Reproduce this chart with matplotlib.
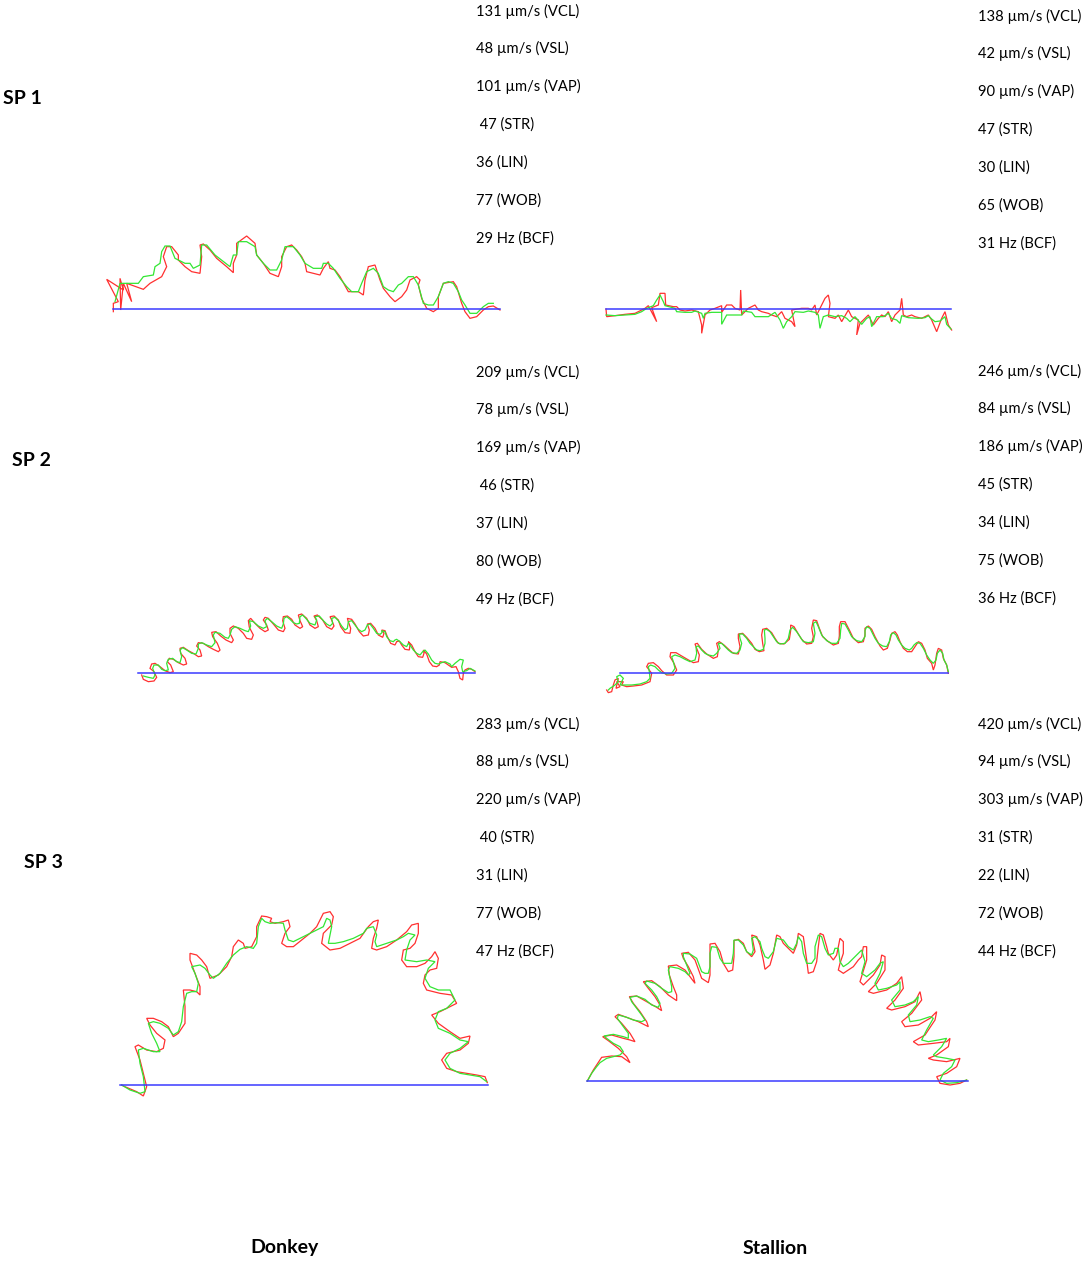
import matplotlib
matplotlib.use("Agg")
import matplotlib.pyplot as plt
import numpy as np

# ---------------- data ----------------
species = ["Donkey", "Stallion"]
subpops = ["SP 1", "SP 2", "SP 3"]

vcl = {"Donkey": [131, 209, 283], "Stallion": [138, 246, 420]}
vsl = {"Donkey": [48, 78, 88], "Stallion": [42, 84, 94]}
vap = {"Donkey": [101, 169, 220], "Stallion": [90, 186, 303]}
strv = {"Donkey": [47, 46, 40], "Stallion": [47, 45, 31]}
lin = {"Donkey": [36, 37, 31], "Stallion": [30, 34, 22]}
wob = {"Donkey": [77, 80, 77], "Stallion": [65, 75, 72]}
bcf = {"Donkey": [29, 49, 47], "Stallion": [31, 36, 44]}

# Track coordinates (image units of the tracking system, y downwards)
A_green = [(45,215),(60,160),(90,160),(115,160),(130,140),(160,135),(165,110),(180,100),(185,65),(195,48),(210,48),(225,85),(255,100),(270,100),(280,115),(300,105),(305,45),(320,45),(345,75),(390,110),(400,75),(410,75),(415,35),(440,35),(465,50),(470,75),(490,100),(510,120),(530,120),(545,90),(555,50),(580,50),(600,75),(615,100),(640,115),(665,115),(670,100),(685,100),(700,115),(720,145),(740,170),(755,185),(775,185),(785,160),(800,125),(820,115),(835,130),(850,170),(865,180),(880,185),(895,165),(905,160),(920,145),(925,140),(940,140),(955,165),(970,220),(985,225),(1000,225),(1015,200),(1030,160),(1045,155),(1060,160),(1075,185),(1085,210),(1095,225),(1110,250),(1130,250),(1150,230),(1165,220),(1180,220)]
A_red = [(40,245),(40,220),(55,215),(20,148),(70,180),(60,145),(62,240),(70,160),(95,215),(80,160),(130,178),(150,160),(185,140),(200,110),(190,80),(200,50),(215,50),(235,75),(235,90),(255,110),(275,125),(300,130),(305,80),(300,45),(310,42),(330,60),(350,85),(380,110),(400,128),(400,100),(410,75),(410,40),(440,18),(465,40),(470,75),(490,100),(510,130),(535,140),(545,110),(545,80),(560,50),(575,45),(590,60),(605,80),(615,100),(620,125),(640,130),(660,135),(670,115),(685,95),(690,115),(705,120),(720,140),(745,185),(775,185),(790,195),(795,150),(800,130),(805,110),(825,105),(830,120),(840,150),(850,175),(870,200),(885,215),(905,200),(920,180),(930,150),(950,140),(960,150),(955,165),(965,205),(980,235),(1000,245),(1015,235),(1015,200),(1030,160),(1060,155),(1070,170),(1085,220),(1095,245),(1110,265),(1130,260),(1150,240),(1165,230),(1180,228),(1200,240)]
A_blue = [(40,237),(1200,237)]

B_green = [(33,90),(60,92),(90,90),(120,88),(140,80),(155,70),(175,62),(185,45),(195,30),(205,50),(210,62),(240,70),(245,80),(270,82),(290,82),(300,78),(320,85),(325,100),(330,85),(350,82),(380,82),(380,118),(395,90),(420,90),(440,90),(445,78),(470,82),(480,95),(500,95),(520,95),(540,82),(555,105),(565,130),(575,110),(590,95),(600,80),(625,82),(640,78),(660,82),(670,90),(675,130),(685,95),(700,90),(720,95),(740,92),(755,100),(765,110),(780,95),(800,118),(815,100),(825,95),(830,125),(845,95),(865,95),(880,85),(890,100),(905,105),(915,115),(920,92),(940,98),(970,100),(990,98),(1000,92),(1010,102),(1020,110),(1035,108),(1050,95),(1055,118),(1068,132)]
B_red = [(33,72),(35,95),(60,92),(90,88),(120,85),(150,70),(160,62),(185,110),(170,68),(190,60),(195,25),(210,25),(212,60),(235,65),(245,65),(255,75),(270,78),(290,75),(310,80),(320,120),(320,145),(330,90),(345,75),(360,70),(380,62),(380,82),(395,60),(410,60),(420,70),(435,75),(437,15),(440,90),(460,70),(480,60),(490,75),(500,80),(520,85),(530,90),(545,95),(560,80),(570,100),(590,110),(600,125),(590,75),(620,70),(640,70),(650,75),(660,60),(665,90),(690,40),(700,30),(705,55),(700,95),(720,100),(730,90),(740,110),(760,75),(770,95),(790,105),(785,150),(795,115),(810,100),(820,90),(835,120),(850,100),(860,90),(870,95),(880,80),(890,110),(900,90),(915,75),(920,40),(925,90),(935,95),(950,90),(960,95),(980,100),(1000,90),(1010,105),(1025,140),(1040,100),(1050,80),(1055,100),(1060,120),(1070,135)]
B_blue = [(33,72),(1068,72)]

C_green = [(40,228),(55,232),(70,235),(75,225),(68,205),(72,195),(85,195),(95,208),(105,212),(115,210),(110,190),(115,178),(128,175),(140,185),(150,188),(155,170),(150,150),(158,143),(170,150),(185,160),(198,162),(205,145),(205,132),(215,128),(230,135),(245,140),(255,128),(250,105),(255,97),(270,100),(285,112),(295,115),(300,105),(305,88),(315,80),(330,85),(345,92),(355,95),(362,78),(358,62),(370,65),(385,78),(400,85),(410,80),(405,62),(412,55),(425,65),(440,78),(455,85),(460,72),(462,55),(470,50),(480,58),(490,68),(500,72),(508,70),(510,50),(518,45),(530,58),(540,70),(555,75),(560,60),(555,50),(568,48),(580,62),(590,72),(600,78),(608,70),(605,55),(615,52),(625,62),(635,78),(645,90),(652,85),(655,65),(665,62),(675,75),(685,88),(695,95),(705,90),(712,75),(720,72),(730,85),(740,100),(750,103),(756,98),(755,92),(765,95),(770,110),(780,122),(790,125),(795,120),(800,118),(810,125),(820,135),(830,140),(835,130),(840,135),(850,150),(860,160),(870,165),(878,155),(885,150),(895,162),(905,180),(915,190),(925,192),(935,188),(945,185),(960,192),(965,200),(975,190),(990,178),(1000,180),(995,200),(998,215),(1010,212),(1020,205),(1035,213)]
C_red = [(35,225),(40,238),(55,245),(72,243),(80,232),(72,215),(60,205),(65,192),(75,190),(90,200),(105,212),(120,218),(130,215),(122,195),(112,185),(118,175),(130,178),(145,188),(160,195),(170,192),(165,175),(152,160),(150,145),(160,142),(175,152),(190,160),(205,170),(215,168),(210,150),(200,138),(205,128),(220,130),(235,140),(250,148),(265,155),(270,150),(262,130),(248,110),(245,97),(258,95),(272,108),(288,120),(305,128),(310,120),(300,100),(300,85),(310,78),(325,85),(340,100),(350,115),(365,118),(370,105),(358,82),(355,62),(362,55),(375,70),(390,85),(405,95),(415,90),(410,75),(400,60),(405,52),(415,55),(430,72),(445,90),(460,95),(465,85),(458,62),(460,50),(472,48),(485,58),(495,75),(510,85),(518,80),(510,62),(505,45),(515,42),(530,55),(540,75),(555,85),(565,80),(560,62),(552,48),(562,45),(578,60),(590,80),(605,88),(612,78),(605,60),(600,50),(612,48),(625,60),(632,80),(645,98),(660,100),(662,85),(655,65),(652,55),(665,58),(675,72),(688,95),(700,108),(715,105),(718,90),(712,72),(722,70),(735,85),(745,105),(758,112),(762,100),(755,90),(765,92),(772,110),(782,130),(795,135),(800,125),(808,123),(815,135),(825,148),(838,150),(840,135),(835,125),(845,135),(855,155),(865,170),(878,172),(882,160),(880,150),(890,162),(898,185),(908,198),(920,200),(928,195),(930,185),(945,188),(955,195),(965,202),(978,200),(985,215),(990,235),(998,240),(1000,220),(1005,210),(1015,205),(1025,208),(1035,215)]
C_blue = [(25,220),(1035,220)]

D_green = [(25,240),(30,235),(45,225),(55,215),(50,200),(60,195),(70,205),(60,225),(75,225),(95,225),(120,222),(140,215),(150,205),(148,185),(145,170),(152,165),(165,170),(175,180),(185,188),(200,192),(215,190),(225,175),(220,155),(215,140),(225,135),(240,140),(255,148),(270,155),(285,150),(290,130),(288,110),(295,108),(305,120),(315,130),(325,135),(340,138),(350,130),(360,115),(355,100),(365,100),(375,110),(385,120),(395,128),(410,130),(420,120),(425,100),(420,85),(418,72),(428,72),(440,85),(450,100),(460,110),(470,120),(480,122),(490,118),(495,100),(495,85),(493,60),(500,58),(510,65),(520,80),(530,95),(540,102),(555,100),(565,85),(570,60),(578,52),(590,65),(600,80),(610,95),(625,98),(640,95),(645,70),(640,40),(648,35),(655,50),(665,75),(680,92),(695,100),(710,100),(720,85),(722,60),(725,40),(735,42),(745,60),(755,80),(770,92),(785,95),(795,80),(795,62),(800,50),(810,55),(815,65),(825,85),(835,100),(848,108),(860,110),(868,95),(872,75),(880,68),(888,75),(895,90),(905,105),(915,115),(928,120),(935,115),(942,105),(950,98),(960,100),(970,115),(980,135),(990,150),(1000,160),(1008,150),(1012,130),(1020,120),(1028,130),(1032,150),(1040,165),(1045,185)]
D_red = [(20,240),(25,248),(35,245),(40,225),(45,210),(55,205),(48,235),(60,230),(50,215),(70,215),(65,225),(80,230),(100,228),(125,225),(150,215),(155,190),(140,170),(145,160),(160,158),(175,170),(185,182),(200,195),(220,195),(230,180),(222,160),(210,140),(212,128),(228,128),(245,138),(262,148),(280,158),(295,155),(298,135),(290,115),(285,102),(292,100),(305,118),(320,132),(340,145),(352,140),(355,120),(350,100),(358,95),(372,105),(388,120),(400,130),(415,132),(420,110),(415,85),(415,72),(428,70),(440,82),(455,100),(465,118),(478,125),(492,122),(488,100),(485,75),(488,58),(500,55),(515,68),(525,85),(535,100),(552,102),(568,88),(572,62),(572,45),(582,50),(595,72),(605,88),(620,102),(635,100),(640,80),(635,55),(640,30),(650,32),(658,55),(668,80),(685,95),(700,105),(715,100),(718,78),(718,50),(722,35),(735,35),(748,60),(760,85),(775,98),(790,95),(795,75),(795,55),(805,48),(815,58),(825,80),(840,108),(850,120),(862,115),(870,90),(875,70),(885,65),(892,75),(900,95),(910,115),(922,125),(935,125),(945,110),(955,95),(965,100),(975,120),(982,145),(995,160),(1000,180),(1005,165),(1010,130),(1015,115),(1025,120),(1030,145),(1040,165),(1045,190)]
D_blue = [(60,190),(1045,190)]

E_green = [(35,555),(60,570),(90,580),(105,575),(100,530),(90,490),(85,450),(100,445),(130,455),(150,455),(140,430),(125,400),(115,370),(130,365),(150,370),(175,385),(190,405),(205,395),(215,365),(220,320),(230,280),(245,275),(260,275),(265,250),(255,220),(245,200),(270,195),(285,205),(300,225),(310,235),(330,220),(350,190),(370,165),(390,148),(410,140),(430,145),(440,130),(445,80),(455,55),(465,65),(480,70),(500,68),(520,70),(525,90),(535,120),(550,125),(570,115),(590,105),(610,95),(640,80),(650,55),(660,60),(665,80),(655,130),(675,130),(700,125),(730,115),(760,100),(770,85),(790,80),(800,105),(795,125),(800,140),(830,130),(860,120),(880,110),(895,100),(915,105),(900,120),(890,150),(885,180),(920,185),(950,180),(975,185),(955,205),(945,235),(960,260),(985,270),(1020,270),(1035,300),(1010,325),(985,335),(975,360),(985,385),(1020,400),(1050,420),(1075,425),(1050,445),(1020,460),(1005,480),(1020,505),(1050,520),(1080,525),(1110,530),(1130,545)]
E_red = [(35,555),(40,558),(80,575),(100,588),(110,560),(100,520),(90,480),(75,440),(85,435),(110,450),(140,455),(160,445),(165,420),(140,400),(120,375),(110,355),(130,355),(155,365),(175,380),(185,400),(190,410),(205,400),(225,370),(225,320),(220,270),(240,270),(260,275),(270,285),(270,260),(255,220),(240,180),(240,160),(260,165),(275,180),(290,200),(300,235),(325,225),(350,200),(365,170),(370,140),(385,120),(400,130),(405,145),(425,140),(440,110),(440,80),(455,48),(470,50),(485,55),(480,65),(495,70),(520,65),(535,60),(540,80),(525,100),(515,130),(530,140),(550,140),(575,120),(600,100),(620,80),(640,40),(660,35),(670,50),(665,75),(640,100),(635,130),(660,150),(690,145),(720,130),(750,115),(775,80),(790,65),(805,60),(800,85),(790,115),(785,145),(800,150),(830,140),(860,120),(890,95),(905,75),(925,70),(925,100),(915,130),(900,145),(880,150),(875,180),(890,200),(920,200),(945,190),(965,170),(975,155),(985,175),(980,205),(960,210),(945,225),(940,250),(950,270),(990,280),(1025,285),(1040,310),(1020,320),(990,335),(965,345),(985,370),(1020,395),(1050,415),(1080,408),(1075,430),(1050,450),(1010,460),(995,480),(1010,505),(1040,515),(1070,520),(1100,525),(1125,530),(1132,548)]
E_blue = [(30,555),(1135,555)]

F_green = [(22,483),(35,460),(50,440),(60,428),(80,415),(100,410),(120,405),(130,395),(120,380),(100,370),(80,355),(72,348),(100,343),(130,350),(145,355),(145,340),(130,320),(112,295),(115,285),(140,292),(160,300),(185,305),(195,300),(185,285),(170,265),(155,245),(150,232),(170,228),(195,238),(215,255),(235,262),(240,250),(230,230),(215,210),(195,190),(200,183),(225,190),(245,205),(265,218),(275,215),(275,200),(270,175),(265,150),(270,140),(295,145),(315,155),(325,165),(330,160),(320,135),(310,110),(310,100),(330,102),(350,115),(365,155),(375,160),(385,160),(390,140),(390,100),(395,80),(410,82),(420,115),(430,130),(455,130),(460,100),(462,60),(475,60),(490,75),(500,95),(515,105),(520,90),(515,55),(525,50),(540,65),(545,85),(555,110),(565,115),(580,95),(590,55),(610,60),(625,80),(640,90),(650,70),(655,50),(665,65),(670,100),(680,130),(695,130),(705,115),(705,80),(715,45),(725,50),(735,85),(745,105),(760,100),(765,85),(775,85),(780,125),(790,140),(805,130),(820,115),(835,100),(845,90),(855,125),(845,160),(860,170),(885,150),(900,130),(910,125),(900,160),(885,190),(895,210),(920,205),(950,195),(960,185),(960,210),(935,240),(945,260),(975,255),(1000,245),(1015,230),(1010,255),(985,285),(990,305),(1020,300),(1050,290),(1060,295),(1040,330),(1025,360),(1045,365),(1075,360),(1100,355),(1085,380),(1060,405),(1070,410),(1100,415),(1125,420),(1115,440),(1090,460),(1080,480),(1100,490),(1130,488),(1160,480)]
F_red = [(22,483),(40,450),(65,412),(95,408),(125,410),(150,428),(140,410),(115,385),(85,362),(68,350),(95,345),(130,355),(150,360),(165,365),(150,340),(125,310),(105,290),(115,283),(140,292),(175,305),(205,320),(200,305),(180,275),(160,250),(148,230),(170,228),(200,245),(230,262),(245,272),(240,255),(225,230),(205,205),(190,185),(215,182),(240,200),(265,225),(290,242),(290,225),(280,200),(268,165),(265,138),(290,135),(315,150),(330,170),(345,190),(340,170),(325,140),(310,115),(305,100),(325,97),(345,120),(365,175),(385,188),(390,165),(390,120),(390,72),(405,70),(420,95),(430,130),(445,155),(458,150),(462,110),(462,62),(475,58),(490,70),(500,95),(515,110),(525,95),(515,45),(530,50),(540,75),(550,120),(555,148),(570,135),(580,100),(590,45),(600,50),(610,70),(625,85),(640,100),(650,75),(655,40),(670,50),(675,85),(680,120),(685,160),(700,155),(710,125),(715,80),(720,40),(730,45),(740,80),(745,100),(760,120),(770,105),(780,55),(790,65),(790,100),(780,130),(775,150),(790,160),(820,140),(835,120),(845,110),(850,80),(860,80),(860,120),(840,185),(850,195),(880,165),(900,135),(905,105),(915,110),(915,150),(890,190),(865,215),(880,220),(920,210),(950,190),(965,170),(970,205),(945,240),(920,265),(935,270),(975,260),(1005,245),(1020,215),(1025,240),(995,280),(965,305),(975,320),(1015,315),(1050,295),(1070,275),(1065,300),(1035,345),(1000,365),(1015,375),(1060,370),(1100,365),(1110,355),(1105,380),(1070,405),(1045,415),(1060,420),(1100,425),(1140,415),(1130,440),(1100,460),(1070,470),(1080,490),(1110,495),(1140,490),(1160,480)]
F_blue = [(20,483),(1165,483)]

tracks = {
    ("Donkey", 0): (A_red, A_green, A_blue),
    ("Stallion", 0): (B_red, B_green, B_blue),
    ("Donkey", 1): (C_red, C_green, C_blue),
    ("Stallion", 1): (D_red, D_green, D_blue),
    ("Donkey", 2): (E_red, E_green, E_blue),
    ("Stallion", 2): (F_red, F_green, F_blue),
}

# ---------------- layout ----------------
W, H = 1084, 1263
fig = plt.figure(figsize=(W / 100, H / 100), dpi=100)
fig.patch.set_facecolor("white")

# pixel boxes (x, y, w, h) for each track image, 3 image units per pixel
boxes = {
    ("Donkey", 0): (100, 230, 410, 90),
    ("Stallion", 0): (595, 285, 365, 50),
    ("Donkey", 1): (130, 600, 360, 90),
    ("Stallion", 1): (600, 610, 355, 90),
    ("Donkey", 2): (110, 900, 390, 200),
    ("Stallion", 2): (580, 920, 400, 180),
}

RED = "#ff3030"
GREEN = "#33e633"
BLUE = "#3a3aff"

for key, (red, green, blue) in tracks.items():
    bx, by, bw, bh = boxes[key]
    ax = fig.add_axes([bx / W, 1 - (by + bh) / H, bw / W, bh / H])
    ax.set_xlim(0, 3 * bw)
    ax.set_ylim(3 * bh, 0)
    ax.axis("off")
    r = np.array(red); g = np.array(green); b = np.array(blue)
    ax.plot(r[:, 0], r[:, 1], color=RED, lw=0.9, solid_joinstyle="miter")
    ax.plot(g[:, 0], g[:, 1], color=GREEN, lw=0.9, solid_joinstyle="miter")
    ax.plot(b[:, 0], b[:, 1], color=BLUE, lw=1.1)

FONT = "Lato"
FS = 10.6

# stats text blocks: (x, first line y) in pixels
stat_pos = {
    ("Donkey", 0): (476, 10), ("Stallion", 0): (978, 15),
    ("Donkey", 1): (476, 371), ("Stallion", 1): (978, 370),
    ("Donkey", 2): (476, 723), ("Stallion", 2): (978, 723),
}
STEP = 37.9

for sp in species:
    for i in range(3):
        lines = [
            f"{vcl[sp][i]} \u00b5m/s (VCL)",
            f"{vsl[sp][i]} \u00b5m/s (VSL)",
            f"{vap[sp][i]} \u00b5m/s (VAP)",
            (" " if sp == "Donkey" else "") + f"{strv[sp][i]} (STR)",
            f"{lin[sp][i]} (LIN)",
            f"{wob[sp][i]} (WOB)",
            f"{bcf[sp][i]} Hz (BCF)",
        ]
        x0, y0 = stat_pos[(sp, i)]
        for k, t in enumerate(lines):
            fig.text(x0 / W, 1 - (y0 + 1 + k * STEP) / H, t, fontsize=FS,
                     family=FONT, ha="left", va="center")

sp_label_pos = [(3, 98), (12, 461), (24, 863)]
for lab, (x, y) in zip(subpops, sp_label_pos):
    fig.text(x / W, 1 - y / H, lab, fontsize=14, family=FONT,
             weight="bold", ha="left", va="center")

for lab, x in zip(species, [285, 775]):
    fig.text(x / W, 1 - 1248 / H, lab, fontsize=14, family=FONT,
             weight="bold", ha="center", va="center")

fig.savefig("out.png", dpi=100, facecolor="white")
